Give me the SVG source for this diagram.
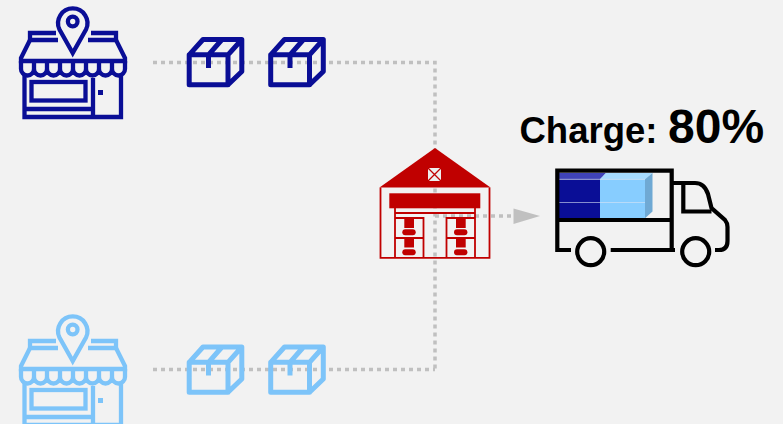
<svg xmlns="http://www.w3.org/2000/svg" width="783" height="424" viewBox="0 0 783 424">
<style>
.ln{fill:none;stroke:currentColor;stroke-width:4.3}
.dot{fill:none;stroke:#c0c0c0;stroke-width:3.5;stroke-dasharray:4 4}
.navy{color:#0a0e96}
.sky{color:#7dc4f9}
.wh{fill:none;stroke:#c00000;stroke-width:1.8}
.red{fill:#c00000}
.tr{fill:none;stroke:#000;stroke-width:4.200}
text{font-family:"Liberation Sans",Arial,sans-serif;font-weight:bold;fill:#000}
</style>
<defs>
<g id="shop">
<circle class="ln" cx="72.700" cy="21.500" r="4.800"/>
<path class="ln" d="M72.700 53L59.500 29.500A14.700 14.700 0 1 1 86 29.500Z"/>
<path class="ln" d="M56 33H30V40H58M88 40H116V33H91"/>
<path class="ln" d="M30 40L21 58V61H125V58L116 40"/>
<path class="ln" d="M21 61V69A6.500 6.500 0 0 0 34 69A6.500 6.500 0 0 0 47 69A6.500 6.500 0 0 0 60 69A6.500 6.500 0 0 0 73 69A6.500 6.500 0 0 0 86 69A6.500 6.500 0 0 0 99 69A6.500 6.500 0 0 0 112 69A6.500 6.500 0 0 0 125 69V61"/>
<path class="ln" d="M34 61V69M47 61V69M60 61V69M73 61V69M86 61V69M99 61V69M112 61V69"/>
<path class="ln" d="M24.500 74V117H121V74"/>
<rect class="ln" x="31.500" y="82" width="54" height="18.500"/>
<path class="ln" d="M93 78V116M25 109H93"/>
<rect x="98" y="90" width="5" height="5" fill="currentColor"/>
</g>
<g id="box">
<path fill="none" stroke="currentColor" stroke-width="5" stroke-linejoin="round" d="M189.200 54.800H228V84.800H189.200ZM189.200 54.800L203 39.500H241.800V71.500L228 84.800M228 54.800L241.800 39.500M208.500 54.800L222 39.500"/>
<path stroke="currentColor" stroke-width="5" d="M208.500 54V68"/>
</g>
</defs>
<rect width="783" height="424" fill="#f2f2f2"/>
<g id="connectors">
<path class="dot" d="M153 62.500H435V369.500"/>
<path class="dot" d="M153 369.500H435"/>
<path class="dot" d="M435 216H512"/>
<path d="M513.500 208.500L540 216L513.500 224Z" fill="#c0c0c0"/>
</g>
<g id="shop-top" class="navy"><use href="#shop"/></g>
<g id="boxes-top" class="navy"><use href="#box"/><use href="#box" x="81.500"/></g>
<g id="shop-bottom" class="sky"><use href="#shop" y="308"/></g>
<g id="boxes-bottom" class="sky"><use href="#box" y="307.500"/><use href="#box" x="81.500" y="307.500"/></g>
<g id="warehouse">
<path class="red" d="M435 148L490.500 187.500H379.500Z"/>
<rect x="427.500" y="167.500" width="14" height="14" fill="#eeeeee" stroke="#c00000"/>
<path d="M428 168L441 181M441 168L428 181" stroke="#c00000" stroke-width="1.300"/>
<path class="wh" d="M380.500 187.500V257.800H489.500V187.500"/>
<rect class="red" x="389.300" y="193.300" width="91" height="15"/>
<path class="wh" d="M395 208V258M475 208V258M395 213H475M395 218H423.500V258M475 218H446.500V258M395 238H423.500M446.500 238H475"/>
<g class="red">
<rect x="404.300" y="218" width="9.700" height="10"/><rect x="402.300" y="229.300" width="13.400" height="6" rx="3"/>
<rect x="404.300" y="238.500" width="9.700" height="9"/><rect x="402.300" y="249.300" width="13.400" height="6" rx="3"/>
<rect x="456" y="218" width="9.700" height="10"/><rect x="454" y="229.300" width="13.400" height="6" rx="3"/>
<rect x="456" y="238.500" width="9.700" height="9"/><rect x="454" y="249.300" width="13.400" height="6" rx="3"/>
</g>
</g>
<g id="truck">
<path d="M559 173H606L600 179.300H559Z" fill="#3f43b8"/>
<path d="M606 173H652.500L645 179.300H600Z" fill="#a6dbff"/>
<path d="M645 179.300L652.500 173V211.500L645 218.300Z" fill="#6fa9d4"/>
<rect x="559" y="179.300" width="41" height="39" fill="#0a0e96"/>
<rect x="600" y="179.300" width="45" height="39" fill="#87cdff"/>
<path d="M559 179.300H645M559 202.500H645" stroke="#d8e4f5" stroke-opacity=".6" fill="none"/>
<path class="tr" d="M557.300 220H671.700M671.700 250V170.700H557.300V250H571M610.700 250H675"/>
<circle class="tr" cx="590.700" cy="251.700" r="13.500"/>
<circle class="tr" cx="695.700" cy="251.700" r="13.500"/>
<path class="tr" d="M673 183H695C703 183 706 188 708 194L711.500 208L725 220Q727.500 223 727.500 227V241Q727.500 250 719 250H715"/>
<path class="tr" d="M683.300 183V211.500H711.500"/>
</g>
<g id="label"><text x="519.500" y="143" font-size="36.500">Charge:</text><text x="668" y="143" font-size="48">80%</text></g>
</svg>
